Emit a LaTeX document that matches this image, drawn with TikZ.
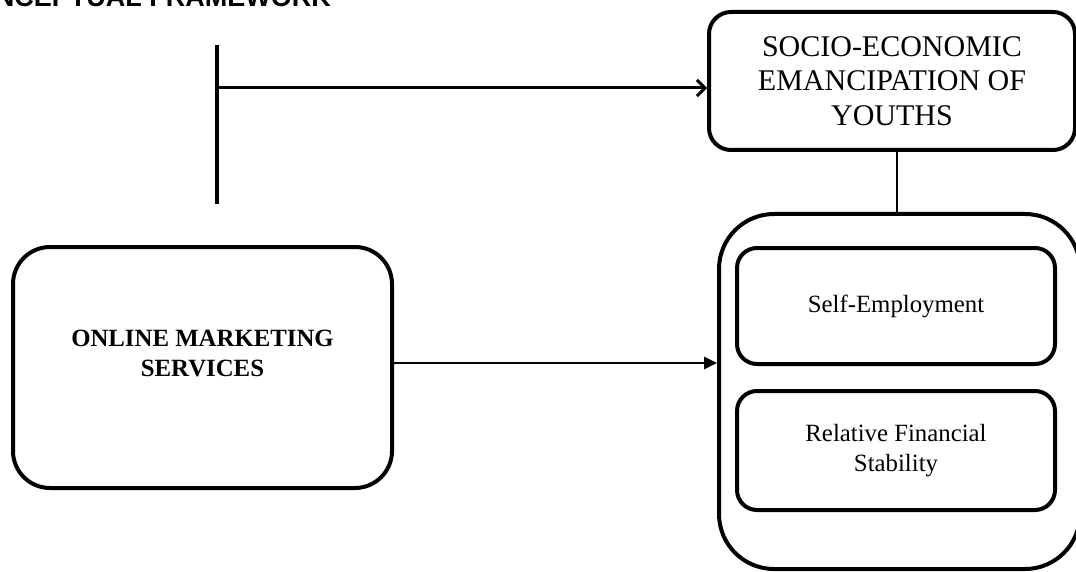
\documentclass[tikz,border=0pt]{standalone}
\usepackage{fontspec}
\setmainfont{Liberation Serif}
\newfontfamily\titlefont{Liberation Sans}
\usetikzlibrary{arrows.meta,calc}
\begin{document}
\begin{tikzpicture}[x=1pt,y=-1pt,
  thickbox/.style={draw,line width=4pt,rounded corners=#1,inner sep=0pt,align=center},
  thickbox/.default=20pt,
  bodytext/.style={font=\fontsize{24.8}{30}\selectfont},
  bigtext/.style={font=\fontsize{30}{34.5}\selectfont},
]
\useasboundingbox (0,0) rectangle (1076,572);
\clip (0,0) rectangle (1076,572);
% title (cut off at the top left, as in the reference)
\node[anchor=base east,inner sep=0pt,font=\titlefont\bfseries\fontsize{27}{30}\selectfont] (title) at (331,7) {CONCEPTUAL FRAMEWORK};
% boxes
\node[thickbox=22pt,minimum width=366pt,minimum height=138pt,bigtext] (socio) at (892,81) {SOCIO-ECONOMIC\\EMANCIPATION OF\\YOUTHS};
\node[thickbox=55pt,minimum width=361pt,minimum height=355pt] (big) at (899.5,391.5) {};
\node[thickbox=20pt,minimum width=318pt,minimum height=116pt,bodytext] (self) at (896,306) {Self-Employment};
\node[thickbox=20pt,minimum width=318pt,minimum height=119pt,bodytext] (rel) at (896,450.5) {Relative Financial\\Stability};
\node[thickbox=37pt,minimum width=379pt,minimum height=241pt] (online) at (202.5,367.5) {};
\node[font=\bfseries\fontsize{24.8}{30}\selectfont,align=center,inner sep=0pt] (onlinetext) at (202.5,353) {ONLINE MARKETING\\SERVICES};
% left bar and top arrow
\coordinate (bartop) at (217,45);
\coordinate (barbot) at (217,204);
\coordinate (barmid) at (217,88);
\draw[line width=4pt] (bartop) -- (barbot);
\draw[line width=3pt,-{Straight Barb[length=8pt,width=16pt,line width=3pt]}] (barmid) -- (barmid -| socio.west);
% connector between socio box and big box
\coordinate (cup) at ($(socio.south)+(5,0)$);
\draw[line width=2pt] (cup) -- (cup |- big.north);
% arrow online -> big
\coordinate (ostart) at ($(online.east)+(0,-4.5)$);
\draw[line width=2.5pt,-{Triangle[length=13pt,width=12pt]}] (ostart) -- (ostart -| big.west);
\end{tikzpicture}
\end{document}
